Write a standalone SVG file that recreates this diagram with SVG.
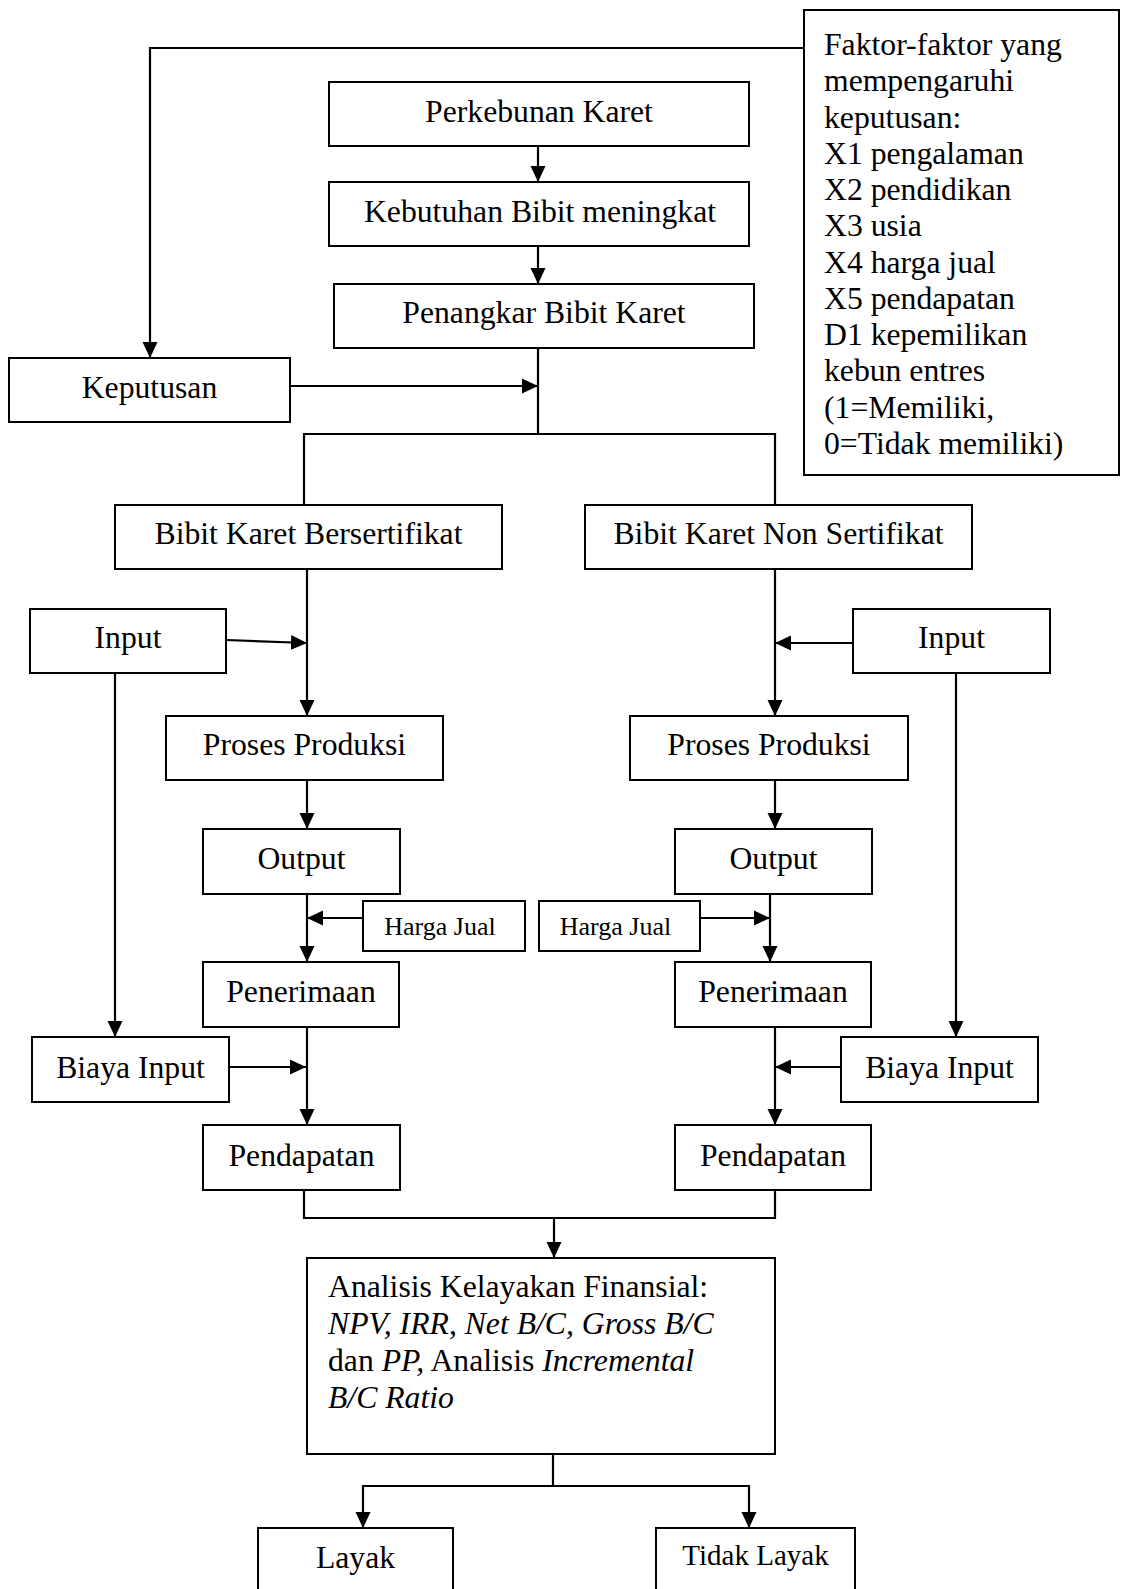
<svg xmlns="http://www.w3.org/2000/svg" width="1122" height="1589" viewBox="0 0 1122 1589">
<style>
  .box { fill: #fff; stroke: #000; stroke-width: 2; }
  .t { font-family: "Liberation Serif", "Times New Roman", serif; font-size: 31.7px; fill: #000; }
  .c { text-anchor: middle; }
  .s { font-size: 26px; }
  .m { font-size: 29px; }
  .i { font-style: italic; }
  .ln { fill: none; stroke: #000; stroke-width: 2.2; }
  .ar { fill: none; stroke: #000; stroke-width: 2.2; marker-end: url(#ah); }
</style>
<defs>
  <marker id="ah" viewBox="0 0 16 16" refX="16" refY="8" markerWidth="16" markerHeight="16" markerUnits="userSpaceOnUse" orient="auto">
    <path d="M0,0.5 L16,8 L0,15.5 Z" fill="#000"/>
  </marker>
</defs>
<rect width="1122" height="1589" fill="#fff"/>

<g id="connectors">
  <polyline class="ar" points="804,48 150,48 150,358"/>
  <line class="ar" x1="538" y1="146" x2="538" y2="182"/>
  <line class="ar" x1="538" y1="246" x2="538" y2="284"/>
  <line class="ar" x1="290" y1="386" x2="538" y2="386"/>
  <line class="ln" x1="538" y1="348" x2="538" y2="434"/>
  <polyline class="ln" points="304,505 304,434 775,434 775,505"/>
  <line class="ar" x1="307" y1="569" x2="307" y2="716"/>
  <line class="ar" x1="226" y1="640" x2="307" y2="643"/>
  <line class="ar" x1="115" y1="673" x2="115" y2="1037"/>
  <line class="ar" x1="307" y1="780" x2="307" y2="829"/>
  <line class="ar" x1="307" y1="894" x2="307" y2="962"/>
  <line class="ar" x1="363" y1="918" x2="307" y2="918"/>
  <line class="ar" x1="307" y1="1027" x2="307" y2="1125"/>
  <line class="ar" x1="229" y1="1067" x2="306" y2="1067"/>
  <line class="ar" x1="775" y1="569" x2="775" y2="716"/>
  <line class="ar" x1="853" y1="643" x2="775" y2="643"/>
  <line class="ar" x1="956" y1="673" x2="956" y2="1037"/>
  <line class="ar" x1="775" y1="780" x2="775" y2="829"/>
  <line class="ar" x1="770" y1="894" x2="770" y2="962"/>
  <line class="ar" x1="700" y1="918" x2="770" y2="918"/>
  <line class="ar" x1="775" y1="1027" x2="775" y2="1125"/>
  <line class="ar" x1="841" y1="1067" x2="775" y2="1067"/>
  <polyline class="ln" points="304,1190 304,1218 775,1218 775,1190"/>
  <line class="ar" x1="554" y1="1218" x2="554" y2="1258"/>
  <line class="ln" x1="553" y1="1454" x2="553" y2="1486"/>
  <polyline class="ar" points="553,1486 363,1486 363,1528"/>
  <polyline class="ar" points="553,1486 749,1486 749,1528"/>
</g>

<g id="faktor">
  <rect class="box" x="804" y="10" width="315" height="465"/>
  <text class="t" x="824" y="55">Faktor-faktor yang</text>
  <text class="t" x="824" y="91.3">mempengaruhi</text>
  <text class="t" x="824" y="127.5">keputusan:</text>
  <text class="t" x="824" y="163.8">X1 pengalaman</text>
  <text class="t" x="824" y="200.1">X2 pendidikan</text>
  <text class="t" x="824" y="236.4">X3 usia</text>
  <text class="t" x="824" y="272.6">X4 harga jual</text>
  <text class="t" x="824" y="308.9">X5 pendapatan</text>
  <text class="t" x="824" y="345.2">D1 kepemilikan</text>
  <text class="t" x="824" y="381.4">kebun entres</text>
  <text class="t" x="824" y="417.7">(1=Memiliki,</text>
  <text class="t" x="824" y="454">0=Tidak memiliki)</text>
</g>

<g id="perkebunan">
  <rect class="box" x="329" y="82" width="420" height="64"/>
  <text class="t c" x="539" y="122">Perkebunan Karet</text>
</g>
<g id="kebutuhan">
  <rect class="box" x="329" y="182" width="420" height="64"/>
  <text class="t c" x="540" y="222">Kebutuhan Bibit meningkat</text>
</g>
<g id="penangkar">
  <rect class="box" x="334" y="284" width="420" height="64"/>
  <text class="t c" x="544" y="323">Penangkar Bibit Karet</text>
</g>
<g id="keputusan">
  <rect class="box" x="9" y="358" width="281" height="64"/>
  <text class="t c" x="149.5" y="398">Keputusan</text>
</g>

<g id="bibit-bersertifikat">
  <rect class="box" x="115" y="505" width="387" height="64"/>
  <text class="t c" x="308.5" y="544">Bibit Karet Bersertifikat</text>
</g>
<g id="bibit-non">
  <rect class="box" x="585" y="505" width="387" height="64"/>
  <text class="t c" x="778.5" y="544">Bibit Karet Non Sertifikat</text>
</g>

<g id="input-left">
  <rect class="box" x="30" y="609" width="196" height="64"/>
  <text class="t c" x="128" y="648">Input</text>
</g>
<g id="input-right">
  <rect class="box" x="853" y="609" width="197" height="64"/>
  <text class="t c" x="951.5" y="648">Input</text>
</g>

<g id="proses-left">
  <rect class="box" x="166" y="716" width="277" height="64"/>
  <text class="t c" x="304.5" y="755">Proses Produksi</text>
</g>
<g id="proses-right">
  <rect class="box" x="630" y="716" width="278" height="64"/>
  <text class="t c" x="769" y="755">Proses Produksi</text>
</g>

<g id="output-left">
  <rect class="box" x="203" y="829" width="197" height="65"/>
  <text class="t c" x="301.5" y="869">Output</text>
</g>
<g id="output-right">
  <rect class="box" x="675" y="829" width="197" height="65"/>
  <text class="t c" x="773.5" y="869">Output</text>
</g>

<g id="harga-left">
  <rect class="box" x="363" y="901" width="162" height="50"/>
  <text class="t s c" x="440" y="935">Harga Jual</text>
</g>
<g id="harga-right">
  <rect class="box" x="539" y="901" width="161" height="50"/>
  <text class="t s c" x="615.5" y="935">Harga Jual</text>
</g>

<g id="penerimaan-left">
  <rect class="box" x="203" y="962" width="196" height="65"/>
  <text class="t c" x="301" y="1002">Penerimaan</text>
</g>
<g id="penerimaan-right">
  <rect class="box" x="675" y="962" width="196" height="65"/>
  <text class="t c" x="773" y="1002">Penerimaan</text>
</g>

<g id="biaya-left">
  <rect class="box" x="32" y="1037" width="197" height="65"/>
  <text class="t c" x="130.5" y="1078">Biaya Input</text>
</g>
<g id="biaya-right">
  <rect class="box" x="841" y="1037" width="197" height="65"/>
  <text class="t c" x="939.5" y="1078">Biaya Input</text>
</g>

<g id="pendapatan-left">
  <rect class="box" x="203" y="1125" width="197" height="65"/>
  <text class="t c" x="301.5" y="1166">Pendapatan</text>
</g>
<g id="pendapatan-right">
  <rect class="box" x="675" y="1125" width="196" height="65"/>
  <text class="t c" x="773" y="1166">Pendapatan</text>
</g>

<g id="analisis">
  <rect class="box" x="307" y="1258" width="468" height="196"/>
  <text class="t" x="328" y="1297">Analisis Kelayakan Finansial:</text>
  <text class="t" x="328" y="1334"><tspan class="i">NPV, IRR</tspan>,<tspan class="i"> Net B/C, Gross B/C</tspan></text>
  <text class="t" x="328" y="1371">dan <tspan class="i">PP,</tspan> Analisis <tspan class="i">Incremental</tspan></text>
  <text class="t i" x="328" y="1408">B/C Ratio</text>
</g>

<g id="layak">
  <rect class="box" x="258" y="1528" width="195" height="80"/>
  <text class="t c" x="355.5" y="1568">Layak</text>
</g>
<g id="tidak-layak">
  <rect class="box" x="656" y="1528" width="199" height="80"/>
  <text class="t m c" x="755.5" y="1565">Tidak Layak</text>
</g>
</svg>
